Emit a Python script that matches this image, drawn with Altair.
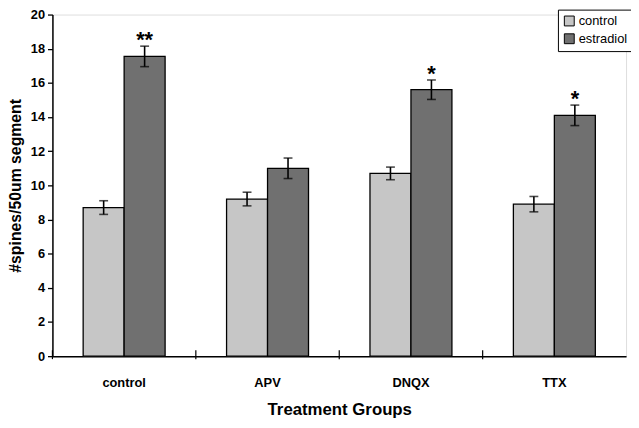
import altair as alt
import pandas as pd

groups = ["control", "APV", "DNQX", "TTX"]
treatments = ["control", "estradiol"]
control_means = [8.7, 9.2, 10.7, 8.9]
control_err = [0.4, 0.4, 0.37, 0.45]
estradiol_means = [17.55, 11.0, 15.6, 14.1]
estradiol_err = [0.6, 0.6, 0.57, 0.6]
stars = ["**", "", "*", "*"]
y_ticks = [0, 2, 4, 6, 8, 10, 12, 14, 16, 18, 20]

rows = []
for i, g in enumerate(groups):
    rows.append({"group": g, "treatment": "control", "mean": control_means[i],
                 "lo": control_means[i] - control_err[i], "hi": control_means[i] + control_err[i], "star": ""})
    rows.append({"group": g, "treatment": "estradiol", "mean": estradiol_means[i],
                 "lo": estradiol_means[i] - estradiol_err[i], "hi": estradiol_means[i] + estradiol_err[i], "star": stars[i]})
df = pd.DataFrame(rows)
bound_df = pd.DataFrame({"group": groups})

FONT = "Liberation Sans, Arial, sans-serif"
W, H = 581, 346

x_axis = alt.Axis(title="Treatment Groups", labelAngle=0, ticks=False,
                  labelFont=FONT, labelFontSize=13, labelFontWeight="bold",
                  labelColor="black", labelPadding=21,
                  titleFont=FONT, titleFontSize=17, titleFontWeight="bold",
                  titleColor="black", titlePadding=12,
                  domainColor="black", domainWidth=1.5)
y_axis = alt.Axis(title="#spines/50um segment", values=y_ticks, tickCount=11, grid=False,
                  labelOverlap=False,
                  tickColor="black", tickSize=5, tickWidth=1.3,
                  domainColor="black", domainWidth=1.5,
                  labelFont=FONT, labelFontSize=13, labelFontWeight="bold",
                  labelColor="black", labelPadding=3,
                  titleFont=FONT, titleFontSize=16, titleFontWeight="bold",
                  titleColor="black", titlePadding=7)
x_scale = alt.Scale(paddingInner=0, paddingOuter=0)
y_scale = alt.Scale(domain=[0, 20], nice=False)


def xe():
    return alt.X("group:N", sort=groups, scale=x_scale, axis=x_axis)


def ye(field):
    return alt.Y(field, type="quantitative", scale=y_scale, axis=y_axis)


xoff = alt.XOffset("treatment:N", sort=treatments,
                   scale=alt.Scale(paddingOuter=0.75, paddingInner=0))

bars = alt.Chart(df).mark_bar(stroke="black", strokeWidth=1.3).encode(
    x=xe(),
    xOffset=xoff,
    y=ye("mean"),
    fill=alt.Fill("treatment:N", sort=treatments,
                  scale=alt.Scale(domain=treatments, range=["#c6c6c6", "#707070"]),
                  legend=alt.Legend(title=None, orient="none", legendX=512, legendY=-5,
                                    fillColor="white", strokeColor="black", padding=5,
                                    symbolType="square", symbolSize=100,
                                    symbolStrokeColor="black", symbolStrokeWidth=1,
                                    labelFont=FONT,
                                    labelFontSize=13, labelColor="black",
                                    rowPadding=3, labelOffset=3)),
)

err_rule = alt.Chart(df).mark_rule(color="black", strokeWidth=1.6).encode(
    x=xe(), xOffset=xoff, y=ye("lo"), y2="hi:Q")
err_top = alt.Chart(df).mark_tick(color="black", size=9, thickness=1.6, orient="horizontal").encode(
    x=xe(), xOffset=xoff, y=ye("hi"))
err_bot = alt.Chart(df).mark_tick(color="black", size=9, thickness=1.6, orient="horizontal").encode(
    x=xe(), xOffset=xoff, y=ye("lo"))

star_text = alt.Chart(df).mark_text(font=FONT, fontSize=22,
                                    fontWeight="bold", color="black", baseline="alphabetic", dy=1).encode(
    x=xe(), xOffset=xoff, y=ye("hi"), text="star:N")

bounds = alt.Chart(bound_df).mark_rule(color="black", strokeWidth=1.2).encode(
    x=alt.X("group:N", sort=groups, scale=x_scale, axis=x_axis, bandPosition=0),
    y=alt.value(H - 6), y2=alt.value(H + 3))

chart = alt.layer(bars, err_rule, err_top, err_bot, star_text, bounds).properties(
    width=W, height=H,
    autosize=alt.AutoSizeParams(type="none"),
    padding={"left": 45, "top": 4, "right": 5, "bottom": 62},
).configure_view(stroke="black", strokeWidth=1.5).configure(background="white")

chart.save("out.html", embed_options={"renderer": "svg", "actions": False})
